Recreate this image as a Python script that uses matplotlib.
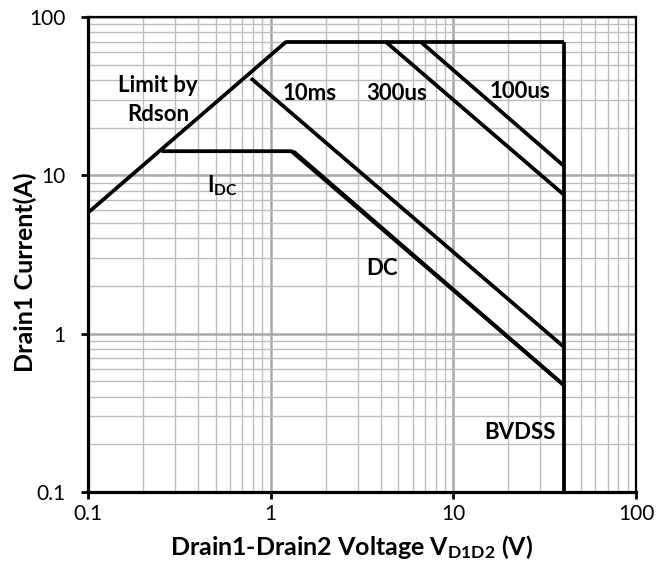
import matplotlib
matplotlib.use('Agg')
import matplotlib.pyplot as plt
from matplotlib.ticker import FixedLocator, FixedFormatter, LogLocator, NullFormatter

plt.rcParams['font.family'] = ['Lato', 'DejaVu Sans']

# curve points (V, A)
rdson_v = [0.1, 1.22]
rdson_i = [5.8, 70]
limit_v = [1.22, 40.5]
limit_i = [70, 70]
bvdss_v = [40.5, 40.5]
bvdss_i = [70, 0.1]
us100_v = [6.6, 40.5]
us100_i = [70, 11.4]
us300_v = [4.25, 40.5]
us300_i = [70, 7.5]
ms10_v = [0.78, 40.5]
ms10_i = [41, 0.82]
idc_v = [0.253, 1.3, 40.5]
idc_i = [14.2, 14.2, 0.47]
dc_v = [1.35, 40.5]
dc_i = [14.0, 0.47]

xticks = [0.1, 1, 10, 100]
xlabels = ['0.1', '1', '10', '100']
yticks = [0.1, 1, 10, 100]
ylabels = ['0.1', '1', '10', '100']

fig = plt.figure(figsize=(6.6, 5.72), dpi=100)
ax = fig.add_axes([0.1333, 0.1399, 0.8303, 0.8304])

ax.set_xscale('log')
ax.set_yscale('log')
ax.set_xlim(0.1, 100)
ax.set_ylim(0.1, 100)

lw = 2.7
for xs, ys in [(rdson_v, rdson_i), (limit_v, limit_i), (bvdss_v, bvdss_i),
               (us100_v, us100_i), (us300_v, us300_i), (ms10_v, ms10_i),
               (idc_v, idc_i)]:
    ax.plot(xs, ys, color='black', lw=lw, solid_capstyle='butt', zorder=3)
ax.plot(dc_v, dc_i, color='black', lw=lw, solid_capstyle='round', zorder=3)

# grid
ax.xaxis.set_major_locator(FixedLocator(xticks))
ax.xaxis.set_major_formatter(FixedFormatter(xlabels))
ax.yaxis.set_major_locator(FixedLocator(yticks))
ax.yaxis.set_major_formatter(FixedFormatter(ylabels))
ax.xaxis.set_minor_locator(LogLocator(base=10, subs=range(2, 10)))
ax.yaxis.set_minor_locator(LogLocator(base=10, subs=range(2, 10)))
ax.xaxis.set_minor_formatter(NullFormatter())
ax.yaxis.set_minor_formatter(NullFormatter())
ax.grid(which='major', color='#a8a8a8', lw=1.8)
ax.grid(which='minor', color='#bdbdbd', lw=1.0)
ax.set_axisbelow(True)

ax.tick_params(which='major', direction='out', length=5, width=2, labelsize=15)
ax.tick_params(which='minor', length=0)
ax.tick_params(axis='x', pad=4)
ax.tick_params(axis='y', pad=11)

ax.spines['left'].set_linewidth(2.3)
ax.spines['bottom'].set_linewidth(2.3)
ax.spines['top'].set_linewidth(1.6)
ax.spines['right'].set_linewidth(1.6)

ax.set_xlabel(r'Drain1-Drain2 Voltage V$\mathregular{_{D1D2}}$ (V)', fontsize=18, fontweight='bold')
ax.xaxis.set_label_coords(0.482, -0.086)
ax.set_ylabel('Drain1 Current(A)', fontsize=18, fontweight='bold', va='center')
ax.yaxis.set_label_coords(-0.115, 0.463)

lab = dict(fontsize=16, fontweight='bold', ha='center', va='center', zorder=4)
ax.text(0.242, 29.8, 'Limit by\nRdson', linespacing=1.45, **lab)
ax.text(1.64, 33, '10ms', **lab)
ax.text(4.91, 33, '300us', **lab)
ax.text(23.2, 34, '100us', **lab)
ax.text(0.541, 8.65, r'I$\mathregular{_{DC}}$', **lab)
ax.text(4.06, 2.58, 'DC', **lab)
ax.text(23.2, 0.236, 'BVDSS', **lab)

fig.savefig('out.png', dpi=100)
